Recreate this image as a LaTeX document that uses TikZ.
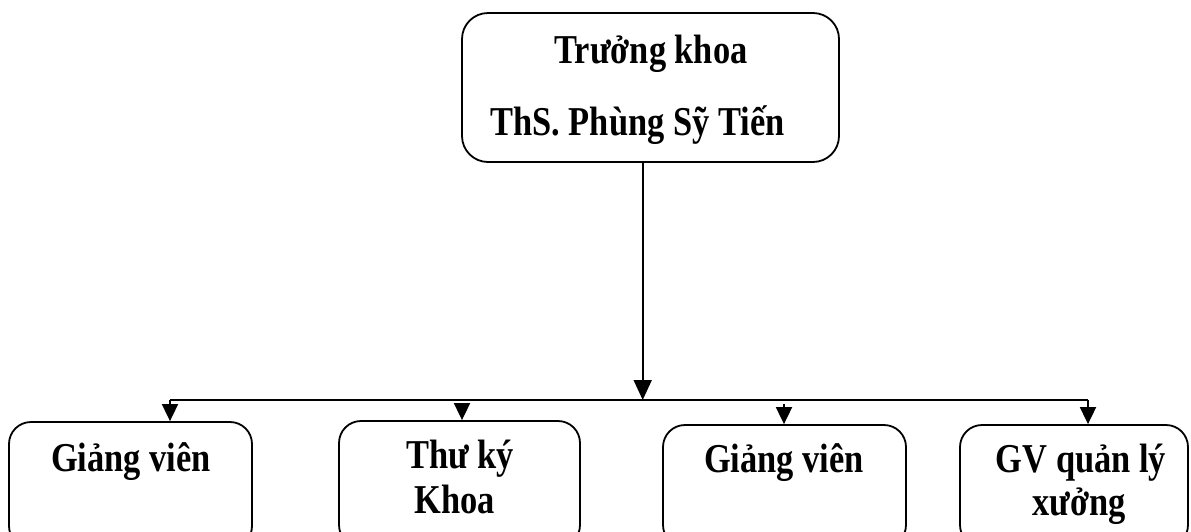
\documentclass[tikz,border=0pt]{standalone}
\usepackage{fontspec}
\setmainfont{Liberation Serif}[FakeStretch=0.84]
\usetikzlibrary{arrows.meta}
\begin{document}
\begin{tikzpicture}[x=1pt,y=-1pt,
  box/.style={draw, line width=1.8pt, rounded corners=22pt, inner sep=0pt},
  lbl/.style={anchor=base, inner sep=0pt, font=\fontsize{41}{48}\selectfont\bfseries},
  conn/.style={line width=1.8pt},
  arr/.style={line width=1.8pt, -{Triangle[width=16pt,length=17pt]}},
  bigarr/.style={line width=1.8pt, -{Triangle[width=18pt,length=20pt]}}]
\useasboundingbox (0,0) rectangle (1191,531);
\clip (0,0) rectangle (1191,531);
% boxes
\node[box, minimum width=377pt, minimum height=149pt, rounded corners=26pt] (top) at (650.5,87.5) {};
\node[box, minimum width=243pt, minimum height=126pt] (b1) at (130.5,485) {};
\node[box, minimum width=241pt, minimum height=126pt] (b2) at (459.5,484) {};
\node[box, minimum width=243pt, minimum height=122pt] (b3) at (784.5,486) {};
\node[box, minimum width=228pt, minimum height=122pt] (b4) at (1074,486) {};
% labels
\node[lbl] (t1) at (651,63) {Trưởng khoa};
\node[lbl] (t2) at (637.5,135) {ThS. Phùng Sỹ Tiến};
\node[lbl] (l1) at (131,471) {Giảng viên};
\node[lbl] (l2a) at (460,468) {Thư ký};
\node[lbl] (l2b) at (455,513) {Khoa};
\node[lbl] (l3) at (784,472) {Giảng viên};
\node[lbl] (l4a) at (1081,472) {GV quản lý};
\node[lbl] (l4b) at (1079,515) {xưởng};
% connectors
\coordinate (m) at (642.7,400);
\coordinate (j1) at (170,400);
\coordinate (j2) at (462,400);
\coordinate (j3) at (784,400);
\coordinate (j4) at (1088,400);
\coordinate (k2) at (462,404);
\coordinate (k3) at (784,404);
\draw[bigarr] (m |- top.south) -- (m);
\draw[conn] (j1) -- (j4);
\draw[arr] (j1) -- (j1 |- b1.north);
\draw[arr] (k2) -- (k2 |- b2.north);
\draw[arr] (k3) -- (k3 |- b3.north);
\draw[arr] (j4) -- (j4 |- b4.north);
\end{tikzpicture}
\end{document}
